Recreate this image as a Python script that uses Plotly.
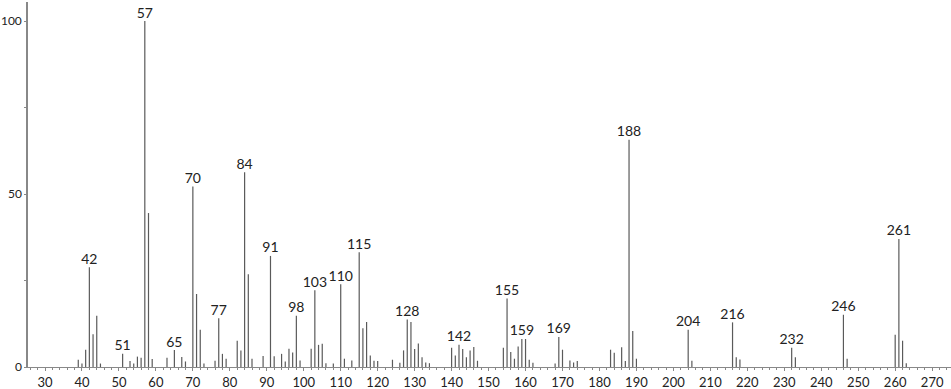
import plotly.graph_objects as go

mz = [39, 40, 41, 42, 43, 44, 45, 51, 53, 54, 55, 56, 57, 58, 59,
      63, 65, 67, 68, 70, 71, 72, 73, 76, 77, 78, 79, 82, 83, 84, 85, 86,
      89, 91, 92, 94, 95, 96, 97, 98, 99, 102, 103, 104, 105, 106, 108,
      110, 111, 113, 115, 116, 117, 118, 119, 120, 124, 126, 127, 128, 129,
      130, 131, 132, 133, 134, 140, 141, 142, 143, 144, 145, 146, 147,
      154, 155, 156, 157, 158, 159, 160, 161, 162, 168, 169, 170, 172, 173,
      174, 183, 184, 186, 187, 188, 189, 190, 204, 205, 216, 217, 218,
      232, 233, 246, 247, 260, 261, 262, 263]
intensity = [2.1, 1.0, 5.0, 28.8, 9.5, 14.8, 1.0, 3.8, 1.7, 1.0, 3.0, 2.7, 100, 44.5, 2.3,
             2.7, 4.9, 2.9, 1.6, 52.2, 21.1, 10.8, 1.0, 1.8, 14.1, 3.8, 2.4, 7.6, 4.8, 56.3, 26.8, 2.4,
             3.2, 32.1, 3.1, 3.8, 1.6, 5.3, 4.2, 14.8, 1.9, 5.3, 22.2, 6.4, 6.7, 1.1, 1.0,
             23.9, 2.4, 1.9, 33.2, 11.2, 13.0, 3.3, 1.8, 1.7, 2.1, 1.2, 4.8, 13.7, 13.0,
             5.2, 6.8, 2.8, 1.3, 1.1, 5.6, 3.3, 6.4, 5.2, 2.8, 4.8, 5.8, 1.8,
             5.6, 19.8, 4.3, 2.4, 5.9, 8.1, 8.1, 2.1, 1.2, 1.0, 8.7, 5.0, 1.9, 1.3,
             1.7, 5.0, 4.1, 5.7, 1.7, 65.7, 10.4, 2.4, 10.8, 1.8, 12.9, 2.8, 2.2,
             5.6, 2.8, 15.1, 2.4, 9.3, 37.0, 7.6, 1.1]
labeled = [42, 51, 57, 65, 70, 77, 84, 91, 98, 103, 110, 115, 128, 142,
           155, 159, 169, 188, 204, 216, 232, 246, 261]
x_ticks = list(range(30, 271, 10))
y_ticks = [0, 50, 100]

FONT = "Lato"

xs, ys = [], []
for m, v in zip(mz, intensity):
    xs += [m, m, None]
    ys += [0, v, None]

lookup = dict(zip(mz, intensity))
lab_y = [lookup[m] for m in labeled]

fig = go.Figure()
fig.add_trace(go.Scatter(x=xs, y=ys, mode="lines",
                         line=dict(color="#5a5a5a", width=1.2),
                         hoverinfo="skip", showlegend=False))
fig.add_trace(go.Scatter(x=labeled, y=lab_y, mode="text",
                         text=[str(m) for m in labeled],
                         textposition="top center",
                         textfont=dict(family=FONT, size=14, color="#222"),
                         hoverinfo="skip", showlegend=False))

fig.update_layout(
    width=951, height=389,
    margin=dict(l=28, r=0, t=2, b=22),
    paper_bgcolor="white", plot_bgcolor="white",
    font=dict(family=FONT, size=13, color="#222"),
)
fig.update_xaxes(range=[25.4, 275.1], showgrid=False, zeroline=False,
                 automargin=False,
                 showline=True, linecolor="#888", linewidth=1,
                 tickmode="array", tickvals=x_ticks,
                 ticks="outside", ticklen=3, tickcolor="#888",
                 minor=dict(dtick=2, ticks="outside", ticklen=2, tickcolor="#888"),
                 tickfont=dict(family=FONT, size=13, color="#222"))
fig.update_yaxes(range=[0, 105.5], showgrid=False, zeroline=False,
                 automargin=False,
                 showline=True, linecolor="#888", linewidth=1.5,
                 tickmode="array", tickvals=y_ticks,
                 ticks="outside", ticklen=2, tickcolor="#888",
                 minor=dict(tickvals=[25, 75], ticks="outside", ticklen=2, tickcolor="#888"),
                 tickfont=dict(family=FONT, size=12, color="#222"))

fig.write_html("out.html", config={"displayModeBar": False},
               post_script="document.body.style.margin='0';document.body.style.overflow='hidden';")
